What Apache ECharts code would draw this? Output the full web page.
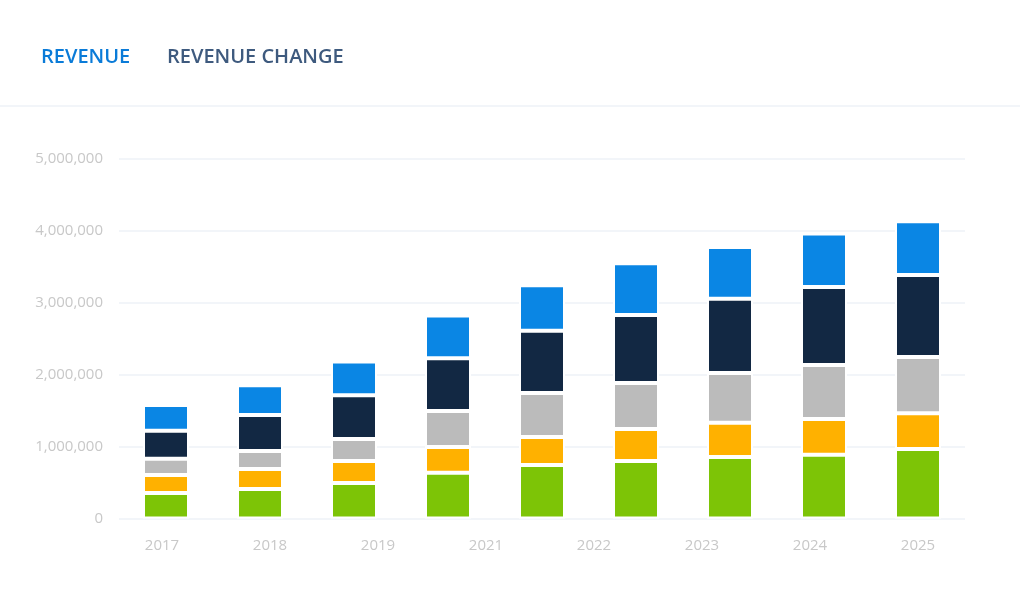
<!DOCTYPE html>
<html>
<head>
<meta charset="utf-8">
<script src="https://cdn.jsdelivr.net/npm/echarts@6/dist/echarts.min.js"></script>
<style>
  html, body { margin: 0; padding: 0; background: #ffffff; }
  #chart { width: 1020px; height: 606px; }
</style>
</head>
<body>
<div id="chart"></div>
<script>
// Bar categories (9 bars)
const barCategories = ['2017', '2018', '2019', '2020', '2021', '2022', '2023', '2024', '2025'];
// Tick labels as printed under the chart (8 labels)
const tickLabels = ['2017', '2018', '2019', '2021', '2022', '2023', '2024', '2025'];

// Stacked segment values, bottom to top
const greenSeries  = [355000, 410000, 495000, 635000, 745000, 800000, 855000, 885000, 965000];
const orangeSeries = [250000, 280000, 305000, 360000, 390000, 445000, 475000, 500000, 500000];
const graySeries   = [225000, 250000, 305000, 500000, 610000, 640000, 695000, 750000, 780000];
const navySeries   = [390000, 500000, 610000, 735000, 865000, 945000, 1030000, 1085000, 1140000];
const blueSeries   = [360000, 415000, 470000, 595000, 635000, 720000, 720000, 745000, 750000];

const yTicks = { min: 0, max: 5000000, interval: 1000000 };

const colors = {
  green: '#7dc406',
  orange: '#ffb100',
  gray: '#bbbbbb',
  navy: '#122843',
  blue: '#0a86e4'
};

function barSeries(name, data, color) {
  return {
    name: name,
    type: 'bar',
    stack: 'rev',
    data: data,
    barWidth: 46,
    xAxisIndex: 0,
    yAxisIndex: 0,
    itemStyle: { color: color, borderColor: '#ffffff', borderWidth: 2 },
    emphasis: { disabled: true },
    animation: false
  };
}

const chart = echarts.init(document.getElementById('chart'), null, { renderer: 'canvas' });
chart.setOption({
  animation: false,
  backgroundColor: '#ffffff',
  textStyle: { fontFamily: 'Open Sans' },
  title: [
    {
      text: 'REVENUE',
      left: 41, top: 47, padding: 0,
      textStyle: { fontFamily: 'Open Sans', fontSize: 20, fontWeight: 600, color: '#0a7bd8' }
    },
    {
      text: 'REVENUE CHANGE',
      left: 167, top: 47, padding: 0,
      textStyle: { fontFamily: 'Open Sans', fontSize: 20, fontWeight: 600, color: '#3e5a7e' }
    }
  ],
  graphic: [
    {
      type: 'rect',
      shape: { x: 0, y: 105, width: 1020, height: 2 },
      style: { fill: '#f2f5f9' },
      silent: true
    }
  ],
  grid: [
    { left: 119, right: 55, top: 159, bottom: 87.5 },
    { left: 162, right: 102, top: 159, bottom: 87.5 }
  ],
  xAxis: [
    {
      type: 'category',
      gridIndex: 0,
      data: barCategories,
      axisLine: { show: false },
      axisTick: { show: false },
      axisLabel: { show: false }
    },
    {
      type: 'category',
      gridIndex: 1,
      data: tickLabels,
      boundaryGap: false,
      axisLine: { show: false },
      axisTick: { show: false },
      axisLabel: {
        show: true,
        margin: 20,
        interval: 0,
        color: '#c8c8c8',
        fontSize: 15,
        fontFamily: 'Open Sans'
      }
    }
  ],
  yAxis: [
    {
      type: 'value',
      gridIndex: 0,
      min: yTicks.min,
      max: yTicks.max,
      interval: yTicks.interval,
      axisLine: { show: false },
      axisTick: { show: false },
      splitLine: { lineStyle: { color: '#f2f5f9', width: 2 } },
      axisLabel: {
        margin: 16,
        color: '#c8c8c8',
        fontSize: 15,
        fontFamily: 'Open Sans',
        formatter: function (v) { return v.toLocaleString('en-US'); }
      }
    },
    {
      type: 'value',
      gridIndex: 1,
      show: false,
      min: 0,
      max: 1
    }
  ],
  series: [
    barSeries('Green', greenSeries, colors.green),
    barSeries('Orange', orangeSeries, colors.orange),
    barSeries('Gray', graySeries, colors.gray),
    barSeries('Navy', navySeries, colors.navy),
    barSeries('Blue', blueSeries, colors.blue)
  ]
});
</script>
</body>
</html>
